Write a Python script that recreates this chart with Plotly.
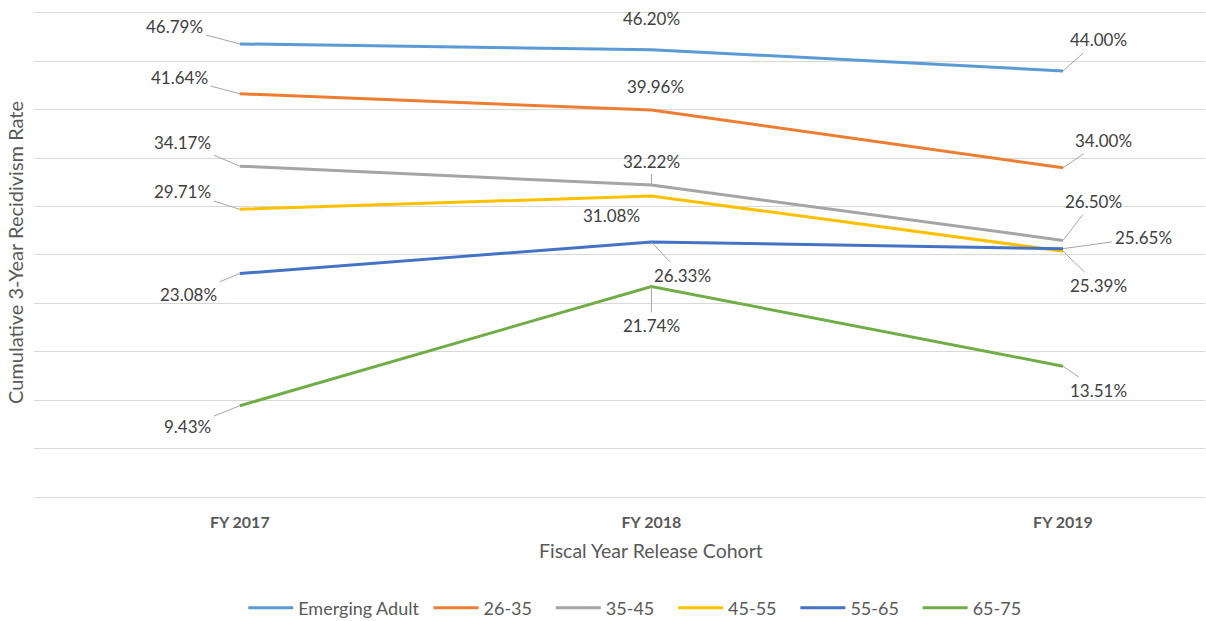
import plotly.graph_objects as go

cohorts = ['FY 2017', 'FY 2018', 'FY 2019']
groups = ['Emerging Adult', '26-35', '35-45', '45-55', '55-65', '65-75']
emerging_adult = [46.79, 46.20, 44.00]
age_26_35 = [41.64, 39.96, 34.00]
age_35_45 = [34.17, 32.22, 26.50]
age_45_55 = [29.71, 31.08, 25.39]
age_55_65 = [23.08, 26.33, 25.65]
age_65_75 = [9.43, 21.74, 13.51]
series = [emerging_adult, age_26_35, age_35_45, age_45_55, age_55_65, age_65_75]

colours = ['#5B9BD5', '#ED7D31', '#A5A5A5', '#FFC000', '#4472C4', '#70AD47']

# label offsets in px (text centre relative to the point) and whether a leader line shows
label_offsets = [
    [(-65, -17, True), (0, -31, False), (35, -31, True)],
    [(-60, -16, True), (4, -24, False), (40, -27, True)],
    [(-57, -24, True), (0, -24, True), (30, -39, True)],
    [(-57, -18, True), (-40, 19, False), (35, 34, True)],
    [(-51, 21, True), (31, 33, True), (80, -11, True)],
    [(-52, 21, True), (0, 39, True), (35, 24, True)],
]
# extra space after each legend entry (non-breaking spaces)
legend_pad = [1, 3, 3, 3, 3, 0]

text_grey = '#595959'
font_family = 'Lato, Open Sans, sans-serif'

fig = go.Figure()
for name, values, colour, pad in zip(groups, series, colours, legend_pad):
    fig.add_trace(go.Scatter(
        x=cohorts, y=values, name=name + '&nbsp;' * pad, mode='lines',
        line=dict(color=colour, width=3)
    ))

annotations = []
for values, offsets in zip(series, label_offsets):
    for cohort, v, (ax, ay, leader) in zip(cohorts, values, offsets):
        annotations.append(dict(
            x=cohort, y=v, text=f'{v:.2f}%',
            showarrow=True, arrowhead=0, arrowwidth=1, standoff=0,
            arrowcolor='#A6A6A6' if leader else 'rgba(0,0,0,0)',
            ax=ax, ay=ay, borderpad=2,
            font=dict(size=17, color='#404040', family=font_family)
        ))

# x axis title sits under the middle category (the category band runs past the right edge)
annotations.append(dict(
    x=cohorts[1], xref='x', y=-0.110, yref='paper', yanchor='middle',
    text='Fiscal Year Release Cohort', showarrow=False,
    font=dict(size=19.5, color=text_grey, family=font_family)
))

fig.update_layout(
    width=1206, height=621,
    plot_bgcolor='white', paper_bgcolor='white',
    margin=dict(l=34, r=1, t=8, b=124, autoexpand=False),
    font=dict(family=font_family, color=text_grey),
    xaxis=dict(
        range=[-0.5, 2.345], showgrid=False, zeroline=False, showline=False,
        ticks='', automargin=False, ticklabelstandoff=14,
        tickfont=dict(size=16, color=text_grey, family=font_family, weight='bold')
    ),
    yaxis=dict(
        range=[0, 50.5], dtick=5, showticklabels=False, ticks='', automargin=False,
        showgrid=True, gridcolor='#D9D9D9', gridwidth=1,
        zeroline=True, zerolinecolor='#D9D9D9', zerolinewidth=1,
        title=dict(text='Cumulative 3-Year Recidivism Rate', font=dict(size=20, color=text_grey), standoff=4)
    ),
    legend=dict(
        orientation='h', x=0.513, xanchor='center', y=-0.227, yanchor='middle',
        font=dict(size=18, color=text_grey), itemwidth=45, tracegroupgap=0
    ),
    annotations=annotations,
    showlegend=True
)

fig.write_html("out.html", config={'displayModeBar': False},
               post_script="document.body.style.margin='0';")
